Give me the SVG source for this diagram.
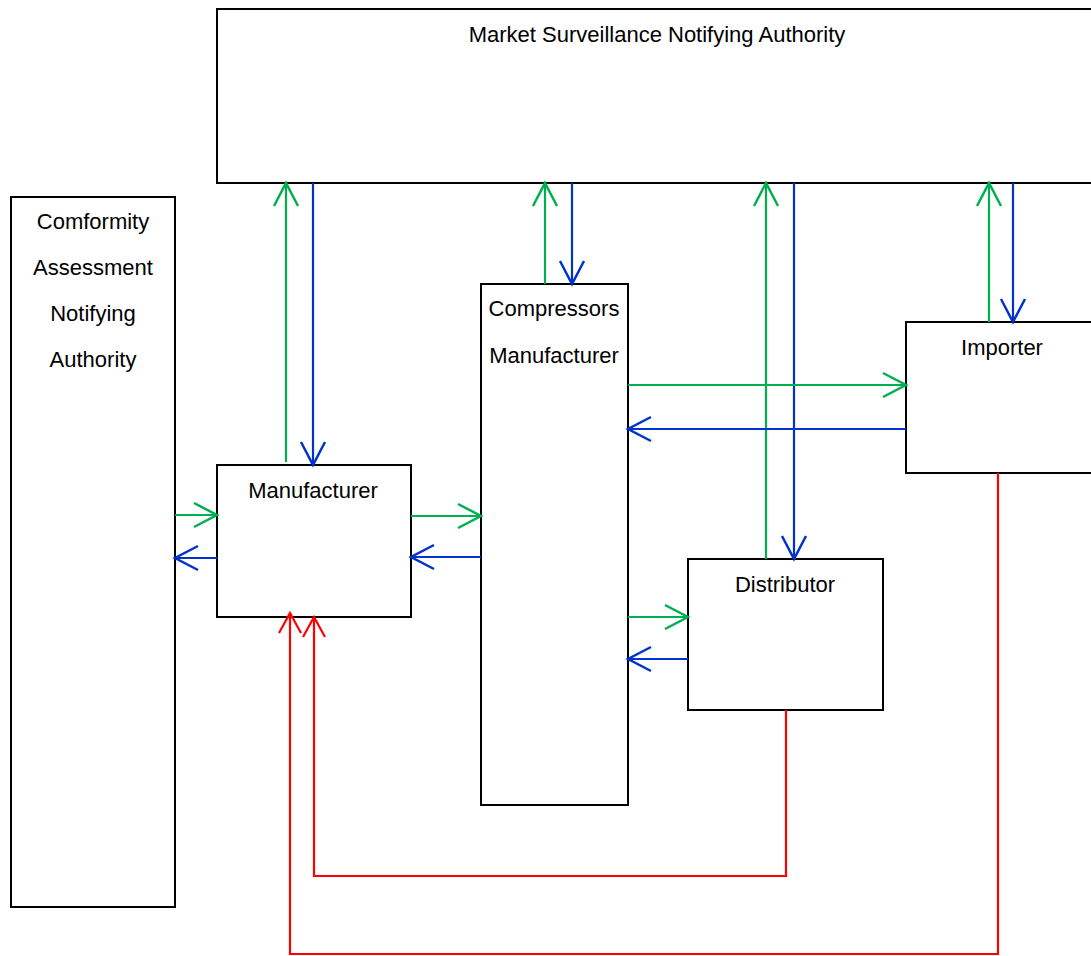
<svg xmlns="http://www.w3.org/2000/svg" width="1091" height="956" viewBox="0 0 1091 956">
<style>
.box{fill:#fff;stroke:#000;stroke-width:2}
.lbl{font-family:"Liberation Sans",Arial,sans-serif;font-size:22px;fill:#000;text-anchor:middle}
.c{fill:none;stroke-width:2.2}
.g{stroke:#00b050;marker-end:url(#ag)}
.b{stroke:#0033cc;marker-end:url(#ab)}
.r{stroke:#ff0000;marker-end:url(#ar)}
</style>
<defs>
<marker id="ag" markerUnits="userSpaceOnUse" viewBox="-26 -15 30 30" markerWidth="30" markerHeight="30" refX="0" refY="0" orient="auto" overflow="visible"><path d="M-23,-12 L0,0 L-23,12" fill="none" stroke="#00b050" stroke-width="2.5"/></marker>
<marker id="ab" markerUnits="userSpaceOnUse" viewBox="-26 -15 30 30" markerWidth="30" markerHeight="30" refX="0" refY="0" orient="auto" overflow="visible"><path d="M-23,-12 L0,0 L-23,12" fill="none" stroke="#0033cc" stroke-width="2.5"/></marker>
<marker id="ar" markerUnits="userSpaceOnUse" viewBox="-26 -15 30 30" markerWidth="30" markerHeight="30" refX="0" refY="0" orient="auto" overflow="visible"><path d="M-20,-11 L0,0 L-20,11" fill="none" stroke="#ff0000" stroke-width="2.2"/></marker>
</defs>
<rect width="1091" height="956" fill="#fff"/>
<g id="market"><rect class="box" x="217" y="9" width="890" height="174"/><text class="lbl" x="657" y="42">Market Surveillance Notifying Authority</text></g>
<g id="conformity"><rect class="box" x="11" y="197" width="164" height="710"/><text class="lbl" x="93" y="229">Comformity</text><text class="lbl" x="93" y="275">Assessment</text><text class="lbl" x="93" y="321">Notifying</text><text class="lbl" x="93" y="367">Authority</text></g>
<g id="manufacturer"><rect class="box" x="217" y="465" width="194" height="152"/><text class="lbl" x="313" y="498">Manufacturer</text></g>
<g id="compressors"><rect class="box" x="481" y="284" width="147" height="521"/><text class="lbl" x="554" y="316">Compressors</text><text class="lbl" x="554" y="363">Manufacturer</text></g>
<g id="importer"><rect class="box" x="906" y="322" width="200" height="151"/><text class="lbl" x="1002" y="355">Importer</text></g>
<g id="distributor"><rect class="box" x="688" y="559" width="195" height="151"/><text class="lbl" x="785" y="592">Distributor</text></g>
<g id="connectors">
<path class="c g" d="M175,515 H217"/>
<path class="c b" d="M217,558 H175"/>
<path class="c g" d="M411,516 H481"/>
<path class="c b" d="M481,557 H411"/>
<path class="c g" d="M286,462 V183"/>
<path class="c b" d="M313,183 V465"/>
<path class="c g" d="M545,284 V183"/>
<path class="c b" d="M572,183 V284"/>
<path class="c g" d="M766,559 V183"/>
<path class="c b" d="M794,183 V559"/>
<path class="c g" d="M989,322 V183"/>
<path class="c b" d="M1013,183 V322"/>
<path class="c g" d="M628,385 H906"/>
<path class="c b" d="M906,429 H628"/>
<path class="c g" d="M628,617 H688"/>
<path class="c b" d="M688,659 H628"/>
<path class="c r" d="M786,710 V876 H314 V617"/>
<path class="c r" d="M998,473 V954 H290 V613"/>
</g>
</svg>
